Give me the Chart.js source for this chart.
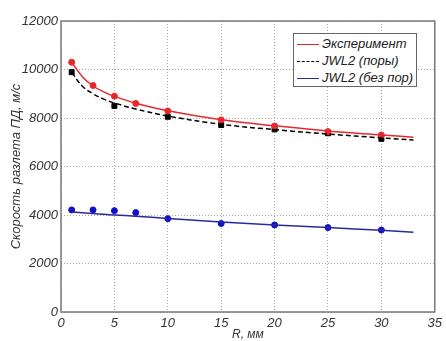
<!DOCTYPE html>
<html><head><meta charset="utf-8">
<script src="https://cdn.jsdelivr.net/npm/chart.js@4/dist/chart.umd.min.js"></script>
<style>
html,body{margin:0;padding:0;background:#fff;}
#wrap{position:relative;width:446px;height:341px;}
#legend{position:absolute;left:293px;top:33px;width:124px;height:54px;border:1px solid #666;background:#fff;box-sizing:border-box;font-family:"Liberation Sans",Arial,sans-serif;font-style:italic;font-size:13px;color:#222;}
.row{position:absolute;left:3px;height:16px;line-height:16px;white-space:nowrap;}
.ln{display:inline-block;width:22px;vertical-align:middle;margin-right:3px;}
</style></head>
<body>
<div id="wrap"><canvas id="c" width="446" height="341"></canvas>
<div id="legend">
<div class="row" style="top:2px"><span class="ln" style="border-top:1.5px solid #e8282c"></span>Эксперимент</div>
<div class="row" style="top:19px"><span class="ln" style="border-top:1.5px dashed #000"></span>JWL2 (поры)</div>
<div class="row" style="top:36px"><span class="ln" style="border-top:1.5px solid #2a2aa0"></span>JWL2 (без пор)</div>
</div></div>
<script>
// Measured points
const expR   = [1, 3, 5, 7, 10, 15, 20, 25, 30];
const expV   = [10300, 9340, 8900, 8600, 8290, 7920, 7670, 7440, 7300];
const poryR  = [1, 5, 10, 15, 20, 25, 30];
const poryV  = [9890, 8500, 8050, 7710, 7530, 7370, 7140];
const bezR   = [1, 3, 5, 7, 10, 15, 20, 25, 30];
const bezV   = [4210, 4210, 4180, 4100, 3850, 3650, 3590, 3480, 3380];
// Curves
const curveR    = [1, 2, 3, 4, 5, 7, 10, 15, 20, 25, 30, 33];
const curveExp  = [10300, 9700, 9320, 9080, 8890, 8610, 8300, 7930, 7680, 7460, 7300, 7210];
const curvePory = [9880, 9310, 9000, 8780, 8620, 8370, 8080, 7740, 7520, 7340, 7180, 7095];
const curveBez  = [4130, 4090, 4060, 4030, 4000, 3950, 3860, 3710, 3590, 3480, 3370, 3290];
// Axis ticks
const xTicks = [0, 5, 10, 15, 20, 25, 30, 35];
const yTicks = [0, 2000, 4000, 6000, 8000, 10000, 12000];

const xy = (xs, ys) => xs.map((x, i) => ({x, y: ys[i]}));

const frame = {
  id: 'frame',
  afterDatasetsDraw(chart) {
    const a = chart.chartArea, ctx = chart.ctx;
    ctx.save();
    ctx.strokeStyle = '#7a7a7a';
    ctx.lineWidth = 1.5;
    ctx.strokeRect(a.left, a.top, a.right - a.left, a.bottom - a.top);
    ctx.restore();
  }
};

const tickFont = {family: '"Liberation Sans", Arial, sans-serif', style: 'italic', size: 13};

new Chart(document.getElementById('c'), {
  type: 'scatter',
  data: {
    datasets: [
      {label: 'Эксперимент', data: xy(curveR, curveExp), showLine: true, borderColor: '#e8282c', borderWidth: 1.5, pointRadius: 0, tension: 0.4},
      {label: 'JWL2 (поры)', data: xy(curveR, curvePory), showLine: true, borderColor: '#000', borderDash: [5, 3], borderWidth: 1.5, pointRadius: 0, tension: 0.4},
      {label: 'JWL2 (без пор)', data: xy(curveR, curveBez), showLine: true, borderColor: '#2a2aa0', borderWidth: 1.5, pointRadius: 0, tension: 0.4},
      {label: 'exp pts', data: xy(expR, expV), pointStyle: 'circle', pointRadius: 3, backgroundColor: '#e8282c', borderColor: '#e8282c'},
      {label: 'pory pts', data: xy(poryR, poryV), pointStyle: 'rect', pointRadius: 3.5, backgroundColor: '#000', borderColor: '#000'},
      {label: 'bez pts', data: xy(bezR, bezV), pointStyle: 'circle', pointRadius: 3, backgroundColor: '#1010c8', borderColor: '#1010c8'}
    ]
  },
  options: {
    responsive: false,
    animation: false,
    layout: {padding: {left: 0, right: 9, top: 21, bottom: 0}},
    plugins: {legend: {display: false}, tooltip: {enabled: false}},
    scales: {
      x: {
        type: 'linear', min: 0, max: 35,
        afterBuildTicks: s => { s.ticks = xTicks.map(v => ({value: v})); },
        afterFit: s => { s.height = 29; },
        ticks: {font: tickFont, color: '#333', padding: 4, maxRotation: 0, callback: v => String(v)},
        grid: {color: '#a8a8a8', drawTicks: false, lineWidth: 1},
        border: {display: false, dash: [1, 2]},
        title: {display: true, text: 'R, мм', font: {family: '"Liberation Sans", Arial, sans-serif', style: 'italic', size: 12, lineHeight: 1}, color: '#333', padding: {top: 0, bottom: 0}}
      },
      y: {
        type: 'linear', min: 0, max: 12000,
        afterBuildTicks: s => { s.ticks = yTicks.map(v => ({value: v})); },
        afterFit: s => { s.width = 61; },
        ticks: {font: tickFont, color: '#333', padding: 3, callback: v => String(v)},
        grid: {color: '#a8a8a8', drawTicks: false, lineWidth: 1},
        border: {display: false, dash: [1, 2]},
        title: {display: true, text: 'Скорость разлета ПД, м/с', font: {family: '"Liberation Sans", Arial, sans-serif', style: 'italic', size: 13}, color: '#333', padding: {top: 9, bottom: 0}}
      }
    }
  },
  plugins: [frame]
});
</script>
</body></html>
